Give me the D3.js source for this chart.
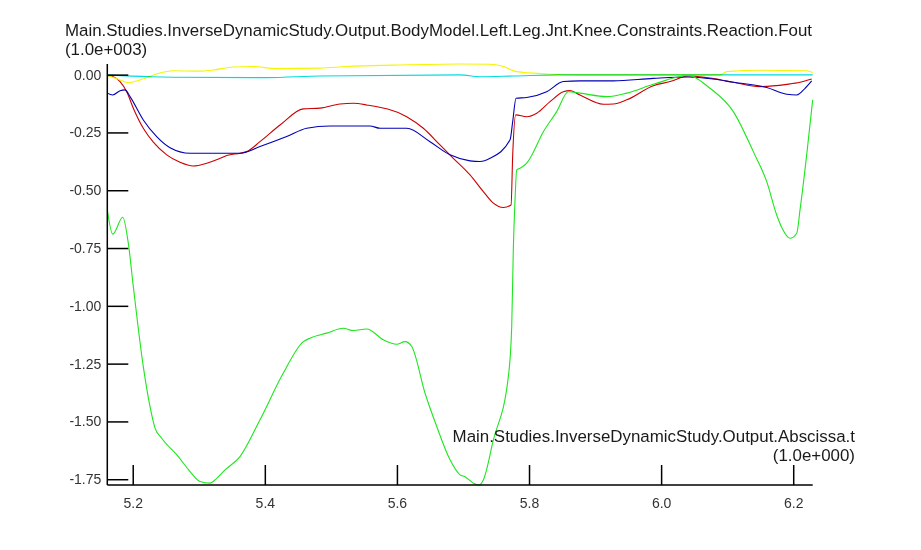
<!DOCTYPE html>
<html>
<head>
<meta charset="utf-8">
<script src="https://cdn.jsdelivr.net/npm/d3@7"></script>
<style>
  html, body { margin: 0; padding: 0; background: #fff; }
  svg { display: block; }
  text { font-family: "Liberation Sans", Arial, Helvetica, sans-serif; }
</style>
</head>
<body>
<script>
// ---- data (values in units of 1.0e+003) ----
const titleLines = ["Main.Studies.InverseDynamicStudy.Output.BodyModel.Left.Leg.Jnt.Knee.Constraints.Reaction.Fout", "(1.0e+003)"];
const xLabelLines = ["Main.Studies.InverseDynamicStudy.Output.Abscissa.t", "(1.0e+000)"];
const xTicks = [5.2, 5.4, 5.6, 5.8, 6.0, 6.2];
const yTicks = [0, -0.25, -0.5, -0.75, -1.0, -1.25, -1.5, -1.75];

const red = [[5.1615,-0.004],[5.1706,-0.009],[5.1808,-0.030],[5.1909,-0.074],[5.2009,-0.145],[5.2160,-0.232],[5.2312,-0.292],[5.2515,-0.347],[5.2716,-0.379],[5.2917,-0.395],[5.3120,-0.383],[5.3322,-0.362],[5.3423,-0.350],[5.3625,-0.340],[5.3726,-0.333],[5.3927,-0.290],[5.4230,-0.218],[5.4583,-0.148],[5.4836,-0.145],[5.5139,-0.127],[5.5340,-0.124],[5.5543,-0.131],[5.6148,-0.182],[5.6400,-0.232],[5.6652,-0.304],[5.6854,-0.362],[5.7107,-0.434],[5.7308,-0.506],[5.7460,-0.556],[5.7611,-0.575],[5.7728,-0.564],[5.7753,-0.347],[5.7799,-0.174],[5.7965,-0.182],[5.8117,-0.167],[5.8318,-0.117],[5.8519,-0.074],[5.8621,-0.069],[5.8772,-0.088],[5.9125,-0.128],[5.9277,-0.127],[5.9479,-0.109],[5.9882,-0.048],[6.0135,-0.030],[6.0412,-0.006],[6.0691,-0.013],[6.1093,-0.033],[6.1497,-0.052],[6.1902,-0.042],[6.2103,-0.033],[6.2280,-0.019]];

const green = [[5.1615,-0.584],[5.1697,-0.690],[5.1849,-0.617],[5.1933,-0.729],[5.2009,-0.917],[5.2160,-1.263],[5.2262,-1.436],[5.2338,-1.529],[5.2439,-1.573],[5.2690,-1.652],[5.2868,-1.717],[5.3019,-1.760],[5.3170,-1.767],[5.3272,-1.746],[5.3397,-1.710],[5.3624,-1.652],[5.3927,-1.493],[5.4280,-1.291],[5.4583,-1.155],[5.4684,-1.140],[5.4937,-1.118],[5.5189,-1.097],[5.5340,-1.107],[5.5543,-1.100],[5.5794,-1.147],[5.5997,-1.166],[5.6123,-1.155],[5.6224,-1.176],[5.6426,-1.378],[5.6603,-1.522],[5.6804,-1.666],[5.6955,-1.731],[5.7031,-1.739],[5.7157,-1.767],[5.7243,-1.775],[5.7308,-1.753],[5.7460,-1.580],[5.7687,-1.306],[5.7738,-1.090],[5.7762,-0.758],[5.7788,-0.542],[5.7814,-0.412],[5.7864,-0.405],[5.7965,-0.383],[5.8015,-0.362],[5.8217,-0.247],[5.8419,-0.160],[5.8595,-0.074],[5.8772,-0.080],[5.9176,-0.095],[5.9479,-0.080],[5.9882,-0.042],[6.0412,-0.004],[6.0740,-0.059],[6.1093,-0.160],[6.1396,-0.333],[6.1599,-0.463],[6.1750,-0.607],[6.1830,-0.663],[6.1952,-0.708],[6.2053,-0.686],[6.2103,-0.585],[6.2204,-0.347],[6.2295,-0.109]];

const blue = [[5.1615,-0.080],[5.1697,-0.088],[5.1808,-0.070],[5.1883,-0.066],[5.1959,-0.095],[5.2160,-0.196],[5.2363,-0.268],[5.2565,-0.316],[5.2868,-0.340],[5.3625,-0.340],[5.3927,-0.311],[5.4331,-0.268],[5.4634,-0.232],[5.4987,-0.222],[5.5593,-0.222],[5.5744,-0.232],[5.6148,-0.232],[5.6501,-0.290],[5.6804,-0.347],[5.7107,-0.373],[5.7258,-0.376],[5.7410,-0.362],[5.7713,-0.282],[5.7753,-0.203],[5.7803,-0.102],[5.7965,-0.099],[5.8268,-0.074],[5.8519,-0.030],[5.8772,-0.027],[5.9277,-0.027],[5.9882,-0.016],[6.0412,-0.010],[6.0790,-0.019],[6.1093,-0.033],[6.1599,-0.056],[6.1902,-0.085],[6.2053,-0.088],[6.2179,-0.059],[6.2280,-0.027]];

const yellow = [[5.1615,-0.003],[5.1808,-0.023],[5.1933,-0.035],[5.2111,-0.023],[5.2363,0.003],[5.2615,0.017],[5.3019,0.015],[5.3220,0.020],[5.3523,0.033],[5.3826,0.035],[5.4180,0.026],[5.4836,0.028],[5.5240,0.035],[5.5946,0.041],[5.6955,0.046],[5.7409,0.045],[5.7611,0.035],[5.7814,0.013],[5.8268,0.003],[5.8772,-0.001],[6.0892,-0.001],[6.0993,0.013],[6.1497,0.019],[6.2204,0.017],[6.2295,0.009]];

const cyan = [[5.1615,-0.001],[5.2262,-0.009],[5.2615,-0.011],[5.4029,-0.013],[5.4836,-0.006],[5.6955,-0.001],[5.7258,-0.009],[5.7762,-0.006],[5.8469,-0.001],[6.0993,-0.001],[6.2295,-0.001]];

const seriesList = [
  {name: "red", data: red, color: "#cc0000"},
  {name: "blue", data: blue, color: "#0000b4"},
  {name: "green", data: green, color: "#1ee61e"},
  {name: "yellow", data: yellow, color: "#f5f500"},
  {name: "cyan", data: cyan, color: "#00dcdc", blend: true}
];

// ---- layout ----
const W = 921, H = 550;
const plot = {left: 107.3, right: 812.7, top: 64, bottom: 485};

const svg = d3.select("body").append("svg").attr("width", W).attr("height", H);

const allT = seriesList.flatMap(s => s.data.map(d => d[0]));
const allV = seriesList.flatMap(s => s.data.map(d => d[1]));
const x = d3.scaleLinear().domain(d3.extent(allT)).range([plot.left, plot.right]);
const y = d3.scaleLinear().domain(d3.extent(allV)).range([plot.bottom, plot.top]);

// lines
const line = d3.line().x(d => x(d[0])).y(d => y(d[1])).curve(d3.curveMonotoneX);
const g = svg.append("g");
seriesList.forEach(s => {
  g.append("path")
    .datum(s.data)
    .attr("fill", "none")
    .attr("stroke", s.color)
    .attr("stroke-width", 1.1)
    .style("mix-blend-mode", s.blend ? "multiply" : null)
    .attr("d", line);
});

// axes
const hyphen = f => v => f(v).replace("\u2212", "-");
const yAxis = d3.axisLeft(y).tickValues(yTicks).tickFormat(hyphen(d3.format(".2f"))).tickSize(-21).tickPadding(6);
const xAxis = d3.axisBottom(x).tickValues(xTicks).tickFormat(hyphen(d3.format(".1f"))).tickSize(-20).tickPadding(13);

const gy = svg.append("g").attr("transform", `translate(${plot.left},0)`).call(yAxis);
const gx = svg.append("g").attr("transform", `translate(0,${plot.bottom})`).call(xAxis);
[gx, gy].forEach(a => {
  a.select(".domain").attr("stroke", "#000").attr("stroke-width", 1.5);
  a.selectAll(".tick line").attr("stroke", "#000").attr("stroke-width", 1.5);
  a.selectAll(".tick text").attr("fill", "#333").style("font-size", "14px")
    .style("font-family", "'Liberation Sans', Arial, sans-serif");
});
gx.select(".domain").attr("d", `M${plot.left},0H${plot.right}`);
gy.select(".domain").attr("d", `M0,${plot.top}V${plot.bottom}`);

// title
svg.append("text").attr("x", 65).attr("y", 36).attr("fill", "#1a1a1a").style("font-size", "16.9px").text(titleLines[0]);
svg.append("text").attr("x", 65).attr("y", 55).attr("fill", "#1a1a1a").style("font-size", "16.9px").text(titleLines[1]);

// x axis label
svg.append("text").attr("x", 855).attr("y", 442).attr("text-anchor", "end").attr("fill", "#1a1a1a").style("font-size", "16.9px").text(xLabelLines[0]);
svg.append("text").attr("x", 855).attr("y", 461).attr("text-anchor", "end").attr("fill", "#1a1a1a").style("font-size", "16.9px").text(xLabelLines[1]);
</script>
</body>
</html>
